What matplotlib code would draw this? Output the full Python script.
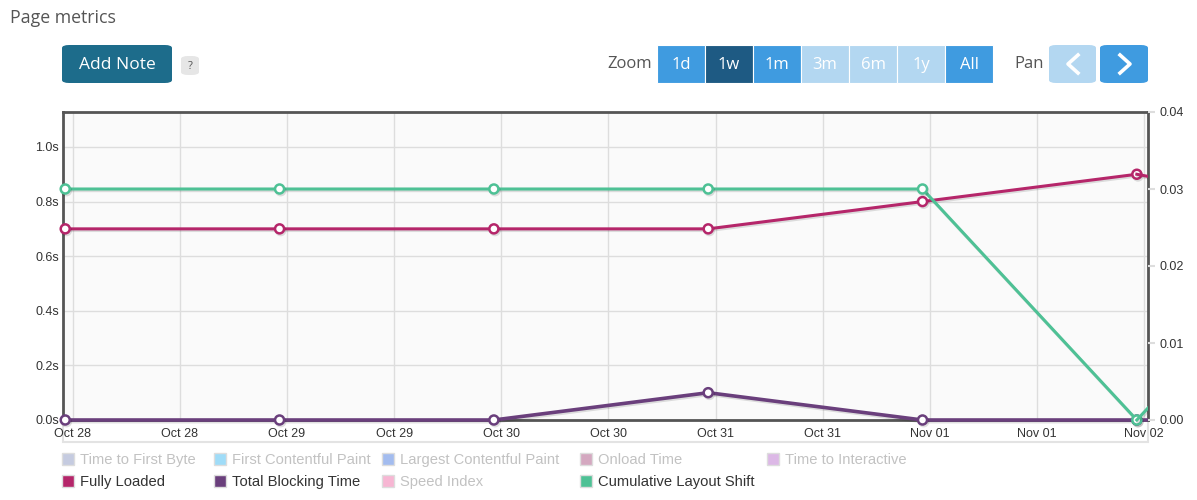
import numpy as np
import pandas as pd
import matplotlib
matplotlib.use('Agg')
import matplotlib.pyplot as plt
import matplotlib.dates as mdates
import matplotlib.patheffects as pe
from matplotlib.patches import FancyBboxPatch, Rectangle
from matplotlib.lines import Line2D
from matplotlib.transforms import Bbox, TransformedBbox

# data: one test per day, last point is just outside the visible window
dates = pd.to_datetime(['2023-10-27 23:10', '2023-10-28 23:10', '2023-10-29 23:10',
                        '2023-10-30 23:10', '2023-10-31 23:10', '2023-11-01 23:10',
                        '2023-11-02 23:10'])
fully_loaded = [0.70, 0.70, 0.70, 0.70, 0.80, 0.90, 0.75]
total_blocking = [0.0, 0.0, 0.0, 0.10, 0.0, 0.0, 0.0]
cls = [0.03, 0.03, 0.03, 0.03, 0.03, 0.0, 0.03]

legend_names = ['Time to First Byte', 'First Contentful Paint', 'Largest Contentful Paint',
                'Onload Time', 'Time to Interactive', 'Fully Loaded', 'Total Blocking Time',
                'Speed Index', 'Cumulative Layout Shift']
legend_colors = ['#c5cbe0', '#9fdcf8', '#a3bcef', '#d4a8c0', '#dcb8e6',
                 '#b5266a', '#6a3f7c', '#f7b6d3', '#4ec195']
legend_shown = [False, False, False, False, False, True, True, False, True]

zoom_labels = ['1d', '1w', '1m', '3m', '6m', '1y', 'All']
zoom_colors = ['#3f9be0', '#1e5a83', '#3f9be0', '#b3d7f1', '#b3d7f1', '#b3d7f1', '#3f9be0']

W, H = 1197, 500
fig = plt.figure(figsize=(W / 100, H / 100), dpi=100)

def fx(px):
    return px / W

def fy(py):
    return 1 - py / H

# header
fig.text(fx(10), fy(18), 'Page metrics', fontsize=12.8, color='#555555',
         family='Open Sans', va='center')

def button(x0, x1, y0, y1, color, label, txtcolor='white', size=12):
    p = FancyBboxPatch((fx(x0), fy(y1)), fx(x1 - x0), fy(y0) - fy(y1),
                       boxstyle='round,pad=0,rounding_size=0.006',
                       transform=fig.transFigure, facecolor=color, edgecolor='none')
    fig.patches.append(p)
    if label:
        fig.text(fx((x0 + x1) / 2), fy((y0 + y1) / 2 + 1), label, color=txtcolor,
                 fontsize=size, ha='center', va='center', family='Open Sans')

button(62, 172, 45, 83, '#1d6c8b', 'Add Note', size=12.5)
button(181, 199, 56, 75, '#e6e6e6', '?', txtcolor='#555555', size=8)

fig.text(fx(652), fy(64), 'Zoom', fontsize=12, color='#555555', family='Open Sans',
         ha='right', va='center')
bx = 657
for lab, col in zip(zoom_labels, zoom_colors):
    w = 48
    fig.patches.append(Rectangle((fx(bx), fy(83)), fx(w), fy(45) - fy(83),
                                 transform=fig.transFigure, facecolor=col,
                                 edgecolor='white', linewidth=0.8))
    fig.text(fx(bx + w / 2), fy(65), lab, color='white', fontsize=12,
             ha='center', va='center', family='Open Sans')
    bx += w
fig.text(fx(1044), fy(64), 'Pan', fontsize=12, color='#555555', family='Open Sans',
         ha='right', va='center')
button(1049, 1096, 45, 83, '#b3d7f1', '')
button(1100, 1148, 45, 83, '#3f9be0', '')
# chevrons
fig.lines.append(Line2D([fx(1078), fx(1068), fx(1078)], [fy(55), fy(64), fy(73)],
                        transform=fig.transFigure, color='white', linewidth=2.6))
fig.lines.append(Line2D([fx(1120), fx(1130), fx(1120)], [fy(55), fy(64), fy(73)],
                        transform=fig.transFigure, color='white', linewidth=2.6))

# chart
ax = fig.add_axes([fx(63), fy(420), fx(1148 - 63), fy(112) - fy(420)])
ax.set_facecolor('#fafafa')
ax2 = ax.twinx()

# clip box: full width of the axes, a little taller so lines at 0 are not cut
clipbox = TransformedBbox(Bbox([[0, -0.03], [1, 1.03]]), ax.transAxes)

shadow = [pe.SimpleLineShadow(offset=(0.8, -1.2), shadow_color='black', alpha=0.12),
          pe.Normal()]
mk = dict(marker='o', markersize=6.5, markerfacecolor='white', markeredgewidth=1.8,
          clip_on=False, path_effects=shadow)

lines = []
lines += ax.plot(dates[:-1], fully_loaded[:-1], color='#b5266a', zorder=4,
                 linewidth=2.2, **mk)
lines += ax.plot(dates[-2:], fully_loaded[-2:], color='#b5266a', zorder=4,
                 linewidth=2.2, path_effects=shadow)
lines += ax.plot(dates[:-1], total_blocking[:-1], color='#6a3f7c', zorder=6,
                 linewidth=2.6, **mk)
lines += ax.plot(dates[-2:], total_blocking[-2:], color='#6a3f7c', zorder=6,
                 linewidth=2.6)
lines += ax2.plot(dates[:-1], cls[:-1], color='#4ec195', zorder=4, linewidth=2.2, **mk)
lines += ax2.plot(dates[-2:], cls[-2:], color='#4ec195', zorder=4, linewidth=2.2,
                  path_effects=shadow)
for ln in lines:
    if ln.get_marker() in ('None', None, ''):
        ln.set_clip_on(True)
    ln.set_clip_box(clipbox)
    ln.set_clip_path(None)

ax.set_xlim(pd.Timestamp('2023-10-27 22:55'), pd.Timestamp('2023-11-02 00:25'))
ax2.set_xlim(pd.Timestamp('2023-10-27 22:55'), pd.Timestamp('2023-11-02 00:25'))
ax.set_ylim(0, 1.128)
ax2.set_ylim(0, 0.04)

ax.xaxis.set_major_locator(mdates.HourLocator(byhour=[0, 12]))
ax.xaxis.set_major_formatter(mdates.DateFormatter('%b %d'))
ax.set_yticks([0, 0.2, 0.4, 0.6, 0.8, 1.0])
ax.set_yticklabels(['0.0s', '0.2s', '0.4s', '0.6s', '0.8s', '1.0s'])
ax2.set_yticks([0, 0.01, 0.02, 0.03, 0.04])
ax2.set_yticklabels(['0.00', '0.01', '0.02', '0.03', '0.04'])

ax.grid(True, color='#dddddd', linewidth=1)
ax.set_axisbelow(True)
ax.tick_params(axis='x', length=0, pad=6, labelsize=9, labelcolor='#333333')
ax.tick_params(axis='y', length=0, pad=3, labelsize=9, labelcolor='#333333')
ax2.tick_params(axis='y', length=5, width=1.5, color='#dddddd', pad=3,
                labelsize=9, labelcolor='#333333')
for lab in ax.get_xticklabels() + ax.get_yticklabels() + ax2.get_yticklabels():
    lab.set_family('Liberation Sans')

for s in ax.spines.values():
    s.set_color('#555555')
    s.set_linewidth(2)
    s.set_zorder(3)
for s in ax2.spines.values():
    s.set_visible(False)

# light frame around the x label strip, kept behind the axes
fig.patches.append(Rectangle((fx(63), fy(442)), fx(1148 - 63), fy(420) - fy(442),
                             transform=fig.transFigure, facecolor='none',
                             edgecolor='#e3e3e3', linewidth=1.5, zorder=-1))

# legend
col_x = [62, 214, 382, 580, 767]
row_y = [459, 481]
for i, (name, col, shown) in enumerate(zip(legend_names, legend_colors, legend_shown)):
    r, c = divmod(i, 5)
    x, y = col_x[c], row_y[r]
    fig.patches.append(Rectangle((fx(x), fy(y + 6)), fx(12), fy(y - 6) - fy(y + 6),
                                 transform=fig.transFigure, facecolor=col,
                                 edgecolor='#dddddd', linewidth=1))
    fig.text(fx(x + 18), fy(y + 1), name, fontsize=10.6, family='Liberation Sans',
             color='#333333' if shown else '#c2c2c2', va='center')

fig.savefig('out.png', dpi=100)
